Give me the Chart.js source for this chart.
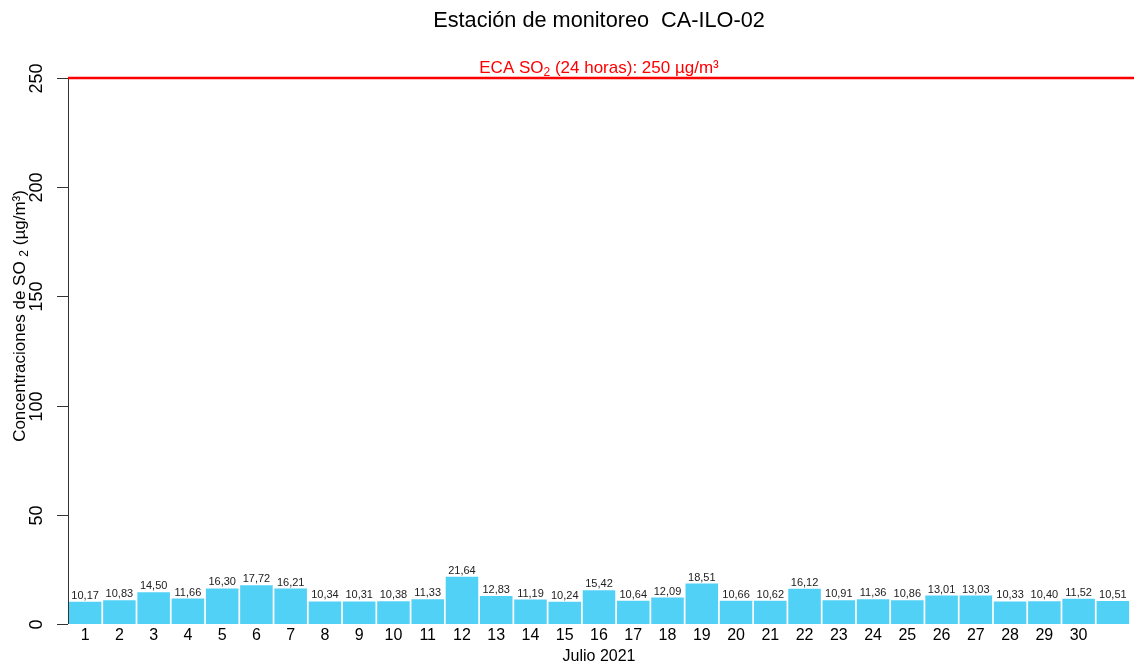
<!DOCTYPE html>
<html>
<head>
<meta charset="utf-8">
<script src="https://cdn.jsdelivr.net/npm/chart.js@4"></script>
<style>
  html, body { margin: 0; padding: 0; background: #fff; }
  #wrap { width: 1134px; height: 666px; position: relative; }
</style>
</head>
<body>
<div id="wrap"><canvas id="c"></canvas></div>
<script>
const days = ['1','2','3','4','5','6','7','8','9','10','11','12','13','14','15','16','17','18','19','20','21','22','23','24','25','26','27','28','29','30','31'];
const xTickLabels = ['1','2','3','4','5','6','7','8','9','10','11','12','13','14','15','16','17','18','19','20','21','22','23','24','25','26','27','28','29','30',''];
const so2Values = [10.17,10.83,14.50,11.66,16.30,17.72,16.21,10.34,10.31,10.38,11.33,21.64,12.83,11.19,10.24,15.42,10.64,12.09,18.51,10.66,10.62,16.12,10.91,11.36,10.86,13.01,13.03,10.33,10.40,11.52,10.51];
const yTickValues = [0,50,100,150,200,250];
const ecaLimit = 250;

const FONT = '"Liberation Sans", Arial, Helvetica, sans-serif';

const decor = {
  id: 'decor',
  afterDatasetsDraw(chart) {
    const ctx = chart.ctx;
    const ca = chart.chartArea;
    const xs = chart.scales.x, ys = chart.scales.y;
    ctx.save();

    // value labels
    ctx.fillStyle = '#222';
    ctx.font = '11px ' + FONT;
    ctx.textAlign = 'center';
    ctx.textBaseline = 'alphabetic';
    const meta = chart.getDatasetMeta(0);
    meta.data.forEach((bar, i) => {
      ctx.fillText(so2Values[i].toFixed(2).replace('.', ','), bar.x, bar.y - 3);
    });

    // y axis line
    ctx.strokeStyle = '#333';
    ctx.lineWidth = 1;
    ctx.beginPath();
    ctx.moveTo(ca.left + 0.5, ys.getPixelForValue(0));
    ctx.lineTo(ca.left + 0.5, ys.getPixelForValue(250));
    ctx.stroke();

    // y ticks + labels
    ctx.fillStyle = '#000';
    ctx.font = '18px ' + FONT;
    yTickValues.forEach(v => {
      const y = Math.round(ys.getPixelForValue(v)) + 0.5;
      ctx.beginPath();
      ctx.moveTo(ca.left - 11, y);
      ctx.lineTo(ca.left, y);
      ctx.stroke();
      ctx.save();
      ctx.translate(42, y);
      ctx.rotate(-Math.PI / 2);
      ctx.textAlign = 'center';
      ctx.textBaseline = 'alphabetic';
      ctx.fillText(String(v), 0, 0);
      ctx.restore();
    });

    // x labels
    ctx.font = '16px ' + FONT;
    ctx.textAlign = 'center';
    ctx.textBaseline = 'middle';
    xTickLabels.forEach((l, i) => {
      ctx.fillText(l, xs.getPixelForValue(i), 636);
    });
    ctx.fillText('Julio 2021', (ca.left + ca.right) / 2, 657);

    // ECA line
    const yE = ys.getPixelForValue(ecaLimit);
    ctx.strokeStyle = '#ff0000';
    ctx.lineWidth = 2.5;
    ctx.beginPath();
    ctx.moveTo(ca.left, yE);
    ctx.lineTo(ca.right + 4, yE);
    ctx.stroke();

    // ECA label with subscript
    ctx.fillStyle = '#ff0000';
    ctx.textBaseline = 'alphabetic';
    ctx.textAlign = 'left';
    const p1 = 'ECA SO', p2 = '2', p3 = ' (24 horas): 250 µg/m³';
    ctx.font = '17px ' + FONT;
    const w1 = ctx.measureText(p1).width, w3 = ctx.measureText(p3).width;
    ctx.font = '12px ' + FONT;
    const w2 = ctx.measureText(p2).width;
    let x0 = (ca.left + ca.right) / 2 - (w1 + w2 + w3) / 2;
    const base = yE - 5;
    ctx.font = '17px ' + FONT; ctx.fillText(p1, x0, base);
    ctx.font = '12px ' + FONT; ctx.fillText(p2, x0 + w1, base + 3);
    ctx.font = '17px ' + FONT; ctx.fillText(p3, x0 + w1 + w2, base);

    // title
    ctx.fillStyle = '#000';
    ctx.font = '21.7px ' + FONT;
    ctx.textAlign = 'center';
    ctx.textBaseline = 'middle';
    ctx.fillText('Estación de monitoreo  CA-ILO-02', (ca.left + ca.right) / 2, 21);

    // y title rotated
    ctx.save();
    ctx.translate(25, 316);
    ctx.rotate(-Math.PI / 2);
    ctx.textBaseline = 'alphabetic';
    ctx.textAlign = 'left';
    const q1 = 'Concentraciones de SO ', q2 = '2', q3 = ' (µg/m³)';
    ctx.font = '17px ' + FONT;
    const v1 = ctx.measureText(q1).width, v3 = ctx.measureText(q3).width;
    ctx.font = '12px ' + FONT;
    const v2 = ctx.measureText(q2).width;
    let s = -(v1 + v2 + v3) / 2;
    ctx.font = '17px ' + FONT; ctx.fillText(q1, s, 0);
    ctx.font = '12px ' + FONT; ctx.fillText(q2, s + v1, 3);
    ctx.font = '17px ' + FONT; ctx.fillText(q3, s + v1 + v2, 0);
    ctx.restore();

    ctx.restore();
  }
};

new Chart(document.getElementById('c'), {
  type: 'bar',
  data: {
    labels: days,
    datasets: [{
      data: so2Values,
      backgroundColor: '#52d1f6',
      borderWidth: 0,
      barPercentage: 0.95,
      categoryPercentage: 1.0
    }]
  },
  options: {
    responsive: true,
    maintainAspectRatio: false,
    animation: false,
    layout: { padding: { left: 68, right: 4, top: 78, bottom: 42 } },
    plugins: { legend: { display: false }, tooltip: { enabled: false }, title: { display: false } },
    scales: {
      x: { display: false, offset: true },
      y: { display: false, min: 0, max: 250 }
    }
  },
  plugins: [decor]
});
</script>
</body>
</html>
